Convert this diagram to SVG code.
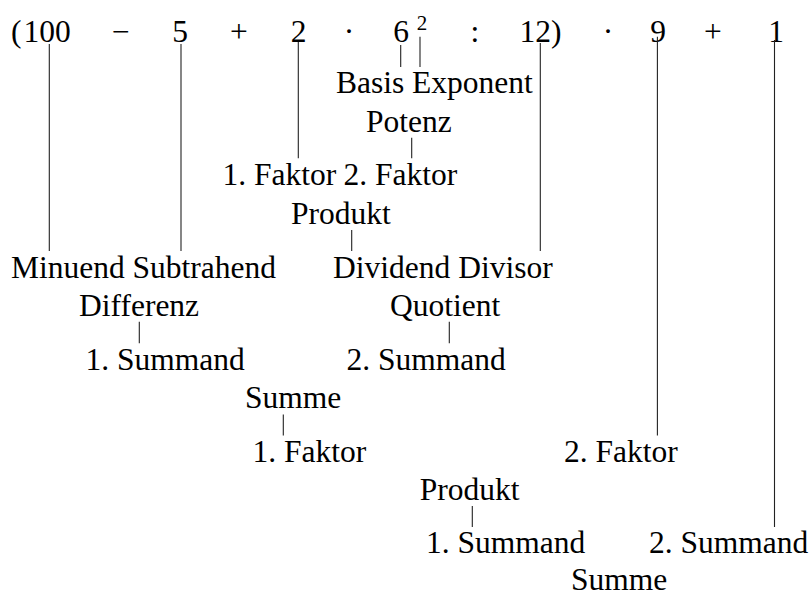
<svg xmlns="http://www.w3.org/2000/svg" width="811" height="594" viewBox="0 0 811 594">
<style>
text{font-family:"Liberation Serif","Times New Roman",serif;font-size:31.5px;fill:#000}
.m{text-anchor:middle}
.sup{font-size:21px}
.e line{stroke:#222;stroke-width:1.1}
</style>
<rect width="811" height="594" fill="#fff"/>
<g id="expression">
<text x="11" y="41.7">(</text>
<text class="m" x="47" y="41.7">100</text>
<text class="m" x="121" y="41.7">−</text>
<text class="m" x="180" y="41.7">5</text>
<text class="m" x="239" y="41.7">+</text>
<text class="m" x="298.5" y="41.7">2</text>
<text class="m" x="349" y="41.7">·</text>
<text class="m" x="401" y="41.7">6</text>
<text class="m sup" x="422" y="30">2</text>
<text class="m" x="475" y="41.7">:</text>
<text x="519.5" y="41.7">12)</text>
<text class="m" x="608" y="41.7">·</text>
<text class="m" x="658" y="41.7">9</text>
<text class="m" x="713" y="41.7">+</text>
<text class="m" x="776" y="41.7">1</text>
</g>
<g id="basis"><text x="336" y="93">Basis</text></g>
<g id="exponent"><text x="412" y="93">Exponent</text></g>
<g id="potenz"><text x="366" y="132">Potenz</text></g>
<g id="faktor1a"><text x="222.5" y="185">1. Faktor</text></g>
<g id="faktor2a"><text x="343.5" y="185">2. Faktor</text></g>
<g id="produkt1"><text x="291" y="223.5">Produkt</text></g>
<g id="minuend"><text x="11" y="277.7">Minuend</text></g>
<g id="subtrahend"><text x="132.6" y="277.7">Subtrahend</text></g>
<g id="dividend"><text x="333" y="277.7">Dividend</text></g>
<g id="divisor"><text x="458.2" y="277.7">Divisor</text></g>
<g id="differenz"><text x="79" y="316">Differenz</text></g>
<g id="quotient"><text x="390" y="316">Quotient</text></g>
<g id="summand1a"><text x="85.5" y="370">1. Summand</text></g>
<g id="summand2a"><text x="346.5" y="370">2. Summand</text></g>
<g id="summe1"><text x="245" y="408.3">Summe</text></g>
<g id="faktor1b"><text x="252.5" y="461.7">1. Faktor</text></g>
<g id="faktor2b"><text x="564" y="461.7">2. Faktor</text></g>
<g id="produkt2"><text x="419.8" y="500.3">Produkt</text></g>
<g id="summand1b"><text x="426" y="553.3">1. Summand</text></g>
<g id="summand2b"><text x="649" y="553.3">2. Summand</text></g>
<g id="summe2"><text x="571" y="590">Summe</text></g>
<g id="connectors" class="e">
<line x1="49.3" y1="44" x2="49.3" y2="251"/>
<line x1="181" y1="44" x2="181" y2="251"/>
<line x1="298.3" y1="42" x2="298.3" y2="158.3"/>
<line x1="400.7" y1="45" x2="400.7" y2="67"/>
<line x1="420" y1="36.7" x2="420" y2="67"/>
<line x1="540.3" y1="43" x2="540.3" y2="251"/>
<line x1="657.4" y1="36.7" x2="657.4" y2="435.5"/>
<line x1="774.5" y1="40" x2="774.5" y2="527"/>
<line x1="411.7" y1="137.7" x2="411.7" y2="158.3"/>
<line x1="351.7" y1="230" x2="351.7" y2="251"/>
<line x1="139.3" y1="321.7" x2="139.3" y2="343.3"/>
<line x1="449.3" y1="321.7" x2="449.3" y2="343.3"/>
<line x1="283.3" y1="414.5" x2="283.3" y2="435.5"/>
<line x1="472.3" y1="506" x2="472.3" y2="527"/>
</g>
</svg>
